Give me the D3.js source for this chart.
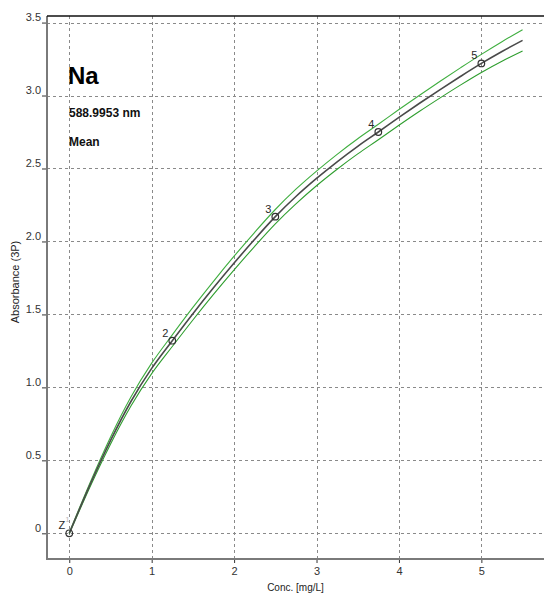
<!DOCTYPE html>
<html><head><meta charset="utf-8">
<script src="https://cdn.jsdelivr.net/npm/d3@7"></script>
<style>html,body{margin:0;padding:0;background:#fff;}svg{display:block;font-family:"Liberation Sans",Arial,sans-serif;}</style>
</head><body>
<svg id="c" width="544" height="594"></svg>
<script>
const xTicks = [0,1,2,3,4,5];
const yTicks = [0,0.5,1.0,1.5,2.0,2.5,3.0,3.5];
const yTickLabels = ["0","0.5","1.0","1.5","2.0","2.5","3.0","3.5"];
const stdConc = [0,1.25,2.5,3.75,5];
const stdAbs = [0,1.32,2.17,2.75,3.22];
const stdLabels = ["Z","2","3","4","5"];
const curveConc = [0,0.25,0.5,0.75,1,1.25,1.5,1.75,2,2.25,2.5,2.75,3,3.25,3.5,3.75,4,4.25,4.5,4.75,5,5.25,5.5];
const curveMid = [0,0.33,0.635,0.905,1.13,1.32,1.505,1.682,1.852,2.015,2.17,2.308,2.432,2.546,2.652,2.75,2.85,2.947,3.041,3.132,3.22,3.302,3.378];
const curveUpper = [0.004,0.344,0.659,0.936,1.166,1.36,1.548,1.727,1.899,2.063,2.219,2.358,2.482,2.597,2.704,2.803,2.904,3.002,3.098,3.191,3.282,3.369,3.451];
const curveLower = [-0.004,0.316,0.611,0.874,1.094,1.28,1.462,1.637,1.805,1.967,2.121,2.258,2.382,2.495,2.600,2.697,2.796,2.892,2.984,3.073,3.158,3.235,3.305];
const title = "Na", wavelength = "588.9953 nm", mode = "Mean";
const xTitle = "Conc. [mg/L]", yTitle = "Absorbance (3P)";

const svg = d3.select("#c");
const L = 47, R = 544, T = 16, B = 559;
const x = d3.scaleLinear().domain([-0.27, 5.76]).range([L, R]);
const y = d3.scaleLinear().domain([-0.176, 3.545]).range([B, T]);

// grid
const g = svg.append("g");
g.selectAll("line.vx").data(xTicks).join("line")
  .attr("x1", d => Math.round(x(d)) + 0.5).attr("x2", d => Math.round(x(d)) + 0.5)
  .attr("y1", T).attr("y2", B)
  .attr("stroke", "#8a8a8a").attr("stroke-width", 1).attr("stroke-dasharray", "3,3");
g.selectAll("line.hy").data(yTicks).join("line")
  .attr("y1", d => Math.round(y(d)) + 0.5).attr("y2", d => Math.round(y(d)) + 0.5)
  .attr("x1", L).attr("x2", R)
  .attr("stroke", "#8a8a8a").attr("stroke-width", 1).attr("stroke-dasharray", "3,3");

// axes
const ax = d3.axisBottom(x).tickValues(xTicks).tickSize(4).tickPadding(4).tickFormat(d3.format("d"));
const xa = svg.append("g").attr("transform", `translate(0,${B})`).call(ax);
const ay = d3.axisLeft(y).tickValues(yTicks).tickSize(5).tickPadding(1).tickFormat((d,i) => yTickLabels[i]);
const ya = svg.append("g").attr("transform", `translate(${L},0)`).call(ay);
[xa, ya].forEach(a => {
  a.select(".domain").remove();
  a.selectAll(".tick line").attr("stroke", "#333");
  a.selectAll(".tick text").attr("fill", "#333").style("font-size", "11px").style("font-family", '"Liberation Sans",Arial,sans-serif');
});
ya.selectAll(".tick text").attr("dy", "-0.15em");
svg.append("line").attr("x1", L).attr("x2", L).attr("y1", T).attr("y2", B + 1).attr("stroke", "#7a7a7a").attr("stroke-width", 2);
svg.append("line").attr("x1", L - 1).attr("x2", R).attr("y1", B).attr("y2", B).attr("stroke", "#7a7a7a").attr("stroke-width", 2);
svg.append("line").attr("x1", L).attr("x2", R).attr("y1", T).attr("y2", T).attr("stroke", "#111").attr("stroke-width", 1.5);

// axis titles
svg.append("text").attr("x", (L + R) / 2).attr("y", 591).attr("text-anchor", "middle")
  .style("font-size", "10px").attr("fill", "#222").text(xTitle);
svg.append("text").attr("transform", "translate(19,282) rotate(-90)").attr("text-anchor", "middle")
  .style("font-size", "11px").attr("fill", "#222").text(yTitle);

// curves
const pts = arr => curveConc.map((c, i) => [c, arr[i]]);
const line = d3.line().x(d => x(d[0])).y(d => y(d[1])).curve(d3.curveMonotoneX);
svg.append("path").attr("d", line(pts(curveUpper))).attr("fill", "none").attr("stroke", "#3fae3f").attr("stroke-width", 1.1);
svg.append("path").attr("d", line(pts(curveLower))).attr("fill", "none").attr("stroke", "#2f9e2f").attr("stroke-width", 1.1);
svg.append("path").attr("d", line(pts(curveMid))).attr("fill", "none").attr("stroke", "#4a4a4a").attr("stroke-width", 1.6);

// points
svg.selectAll("circle.pt").data(stdConc).join("circle")
  .attr("cx", d => x(d)).attr("cy", (d, i) => y(stdAbs[i])).attr("r", 3.3)
  .attr("fill", "none").attr("stroke", "#333").attr("stroke-width", 1.2);
svg.selectAll("text.pl").data(stdLabels).join("text")
  .attr("x", (d, i) => x(stdConc[i]) - 4).attr("y", (d, i) => y(stdAbs[i]) - 4)
  .attr("text-anchor", "end").style("font-size", "11px").attr("fill", "#2a2a2a").text(d => d);
svg.append("text").attr("x", x(stdConc[0]) - 4).attr("y", y(stdAbs[0]) - 11)
  .style("font-size", "8px").attr("fill", "#bbb").text("1");

// header text
svg.append("text").attr("x", 68).attr("y", 84).style("font-size", "24px").style("font-weight", "bold").attr("fill", "#000").text(title);
svg.append("text").attr("x", 69).attr("y", 117).style("font-size", "12px").style("font-weight", "bold").attr("fill", "#111").text(wavelength);
svg.append("text").attr("x", 69).attr("y", 146).style("font-size", "12px").style("font-weight", "bold").attr("fill", "#111").text(mode);
</script>
</body></html>
